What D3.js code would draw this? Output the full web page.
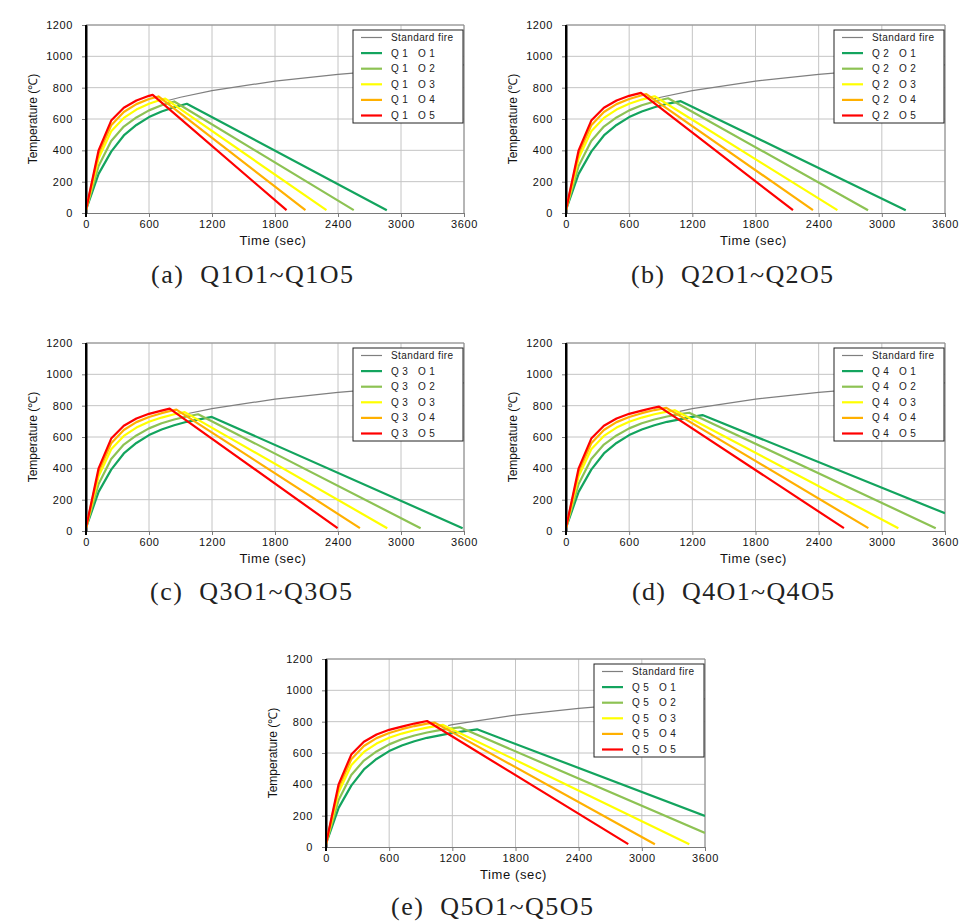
<!DOCTYPE html>
<html>
<head>
<meta charset="utf-8">
<script src="https://cdn.jsdelivr.net/npm/d3@7"></script>
<style>
  html, body { margin: 0; padding: 0; background: #fff; }
  svg { display: block; }
</style>
</head>
<body>
<script>
// ---------------- DATA ----------------
const timeTicks = [0, 600, 1200, 1800, 2400, 3000, 3600];
const tempTicks = [0, 200, 400, 600, 800, 1000, 1200];

// Standard fire curve
const fireTime = [0, 60, 120, 180, 240, 300, 420, 600, 900, 1200, 1800, 2400, 3000, 3600];
const fireTemp = [20, 349, 445, 502, 544, 576, 626, 678, 739, 781, 842, 885, 918, 945];
// Point where the standard fire line becomes visible in each panel
const fireStartTime = [780, 830, 950, 1080, 1160];
const fireStartTemp = [718, 727, 747, 764, 775];

// Heating-phase readings per opening level (O1..O5)
const heatTime = [0, 120, 240, 360, 480, 600, 720, 840, 960, 1080, 1200, 1320, 1440];
const heatO1 = [20, 250, 392, 495, 562, 612, 648, 675, 697, 713, 728, 740, 752];
const heatO2 = [20, 300, 460, 552, 610, 655, 688, 712, 731, 746, 758, 768, 777];
const heatO3 = [20, 350, 522, 607, 660, 697, 724, 745, 762, 776, 788, 798, 806];
const heatO4 = [20, 380, 560, 645, 695, 728, 752, 772, 787, 799, 809, 818, 826];
const heatO5 = [20, 400, 590, 672, 718, 748, 768, 788, 804, 815, 824, 832, 839];

// Peak and end points per panel (Q1..Q5), order O1..O5
const peakTimeQ1 = [960, 840, 755, 690, 635];
const peakTempQ1 = [697, 712, 730, 744, 754];
const endTimeQ1  = [2865, 2550, 2290, 2090, 1910];
const endTempQ1  = [18, 18, 18, 18, 18];

const peakTimeQ2 = [1090, 970, 842, 763, 712];
const peakTempQ2 = [714, 732, 745, 759, 767];
const endTimeQ2  = [3227, 2869, 2578, 2346, 2156];
const endTempQ2  = [18, 18, 18, 18, 18];

const peakTimeQ3 = [1198, 1068, 940, 861, 797];
const peakTempQ3 = [728, 745, 759, 775, 781];
const endTimeQ3  = [3587, 3187, 2869, 2609, 2396];
const endTempQ3  = [18, 18, 18, 18, 18];

const peakTimeQ4 = [1296, 1170, 1033, 954, 884];
const peakTempQ4 = [740, 755, 771, 786, 794];
const endTimeQ4  = [3600, 3512, 3157, 2872, 2640];
const endTempQ4  = [113, 18, 18, 18, 18];

const peakTimeQ5 = [1435, 1271, 1112, 1033, 960];
const peakTempQ5 = [751, 764, 779, 794, 804];
const endTimeQ5  = [3600, 3600, 3451, 3124, 2871];
const endTempQ5  = [198, 89, 18, 18, 18];

const qLabels = ["Q 1", "Q 2", "Q 3", "Q 4", "Q 5"];
const oLabels = ["O 1", "O 2", "O 3", "O 4", "O 5"];
const fireLabel = "Standard fire";
const captions = ["(a)  Q1O1~Q1O5", "(b)  Q2O1~Q2O5", "(c)  Q3O1~Q3O5", "(d)  Q4O1~Q4O5", "(e)  Q5O1~Q5O5"];
const xTitle = "Time (sec)";
const yTitle = "Temperature (℃)";

// ---------------- STYLE / LAYOUT ----------------
const seriesColors = ["#13a45e", "#8dc253", "#ffff00", "#ffb000", "#ff0000"];
const fireColor = "#7f7f7f";
const panels = [
  { L: 86,  T: 25,  W: 378, H: 188, cx: 252, cy: 283 },
  { L: 566, T: 25,  W: 379, H: 188, cx: 732, cy: 283 },
  { L: 86,  T: 343, W: 378, H: 188, cx: 251, cy: 600 },
  { L: 566, T: 343, W: 379, H: 188, cx: 733, cy: 600 },
  { L: 326, T: 659, W: 379, H: 188, cx: 492, cy: 915 }
];
const heats = [heatO1, heatO2, heatO3, heatO4, heatO5];
const peaksT = [peakTimeQ1, peakTimeQ2, peakTimeQ3, peakTimeQ4, peakTimeQ5];
const peaksV = [peakTempQ1, peakTempQ2, peakTempQ3, peakTempQ4, peakTempQ5];
const endsT = [endTimeQ1, endTimeQ2, endTimeQ3, endTimeQ4, endTimeQ5];
const endsV = [endTempQ1, endTempQ2, endTempQ3, endTempQ4, endTempQ5];

const svg = d3.select("body").append("svg")
  .attr("width", 969).attr("height", 923)
  .style("font-family", "'Liberation Sans', Arial, sans-serif");
svg.append("rect").attr("width", 969).attr("height", 923).attr("fill", "#fff");

panels.forEach((p, pi) => {
  const x = d3.scaleLinear().domain([0, 3600]).range([p.L, p.L + p.W]);
  const y = d3.scaleLinear().domain([0, 1200]).range([p.T + p.H, p.T]);
  const g = svg.append("g");

  // grid
  g.selectAll(".vg").data(timeTicks.slice(1)).enter().append("line")
    .attr("x1", d => x(d)).attr("x2", d => x(d))
    .attr("y1", p.T).attr("y2", p.T + p.H)
    .attr("stroke", "#c4c4c4").attr("stroke-width", 1);
  g.selectAll(".hg").data(tempTicks.slice(1)).enter().append("line")
    .attr("x1", p.L).attr("x2", p.L + p.W)
    .attr("y1", d => y(d)).attr("y2", d => y(d))
    .attr("stroke", "#c4c4c4").attr("stroke-width", 1);
  g.append("line").attr("x1", p.L + p.W).attr("x2", p.L + p.W)
    .attr("y1", p.T).attr("y2", p.T + p.H).attr("stroke", "#8a8a8a");
  g.append("line").attr("x1", p.L).attr("x2", p.L + p.W)
    .attr("y1", p.T).attr("y2", p.T).attr("stroke", "#8a8a8a");

  // axes
  const fmt = d3.format("d");
  const ax = g.append("g").attr("transform", `translate(0,${p.T + p.H})`)
    .call(d3.axisBottom(x).tickValues(timeTicks).tickFormat(fmt).tickSize(4).tickPadding(3).tickSizeOuter(0));
  ax.select(".domain").attr("stroke", "#7a7a7a");
  ax.selectAll(".tick line").attr("stroke", "#7a7a7a");
  ax.selectAll("text").attr("font-size", 11).attr("fill", "#111")
    .attr("font-family", "'Liberation Sans', Arial, sans-serif").style("letter-spacing", "0.6px");

  const ay = g.append("g").attr("transform", `translate(${p.L},0)`)
    .call(d3.axisLeft(y).tickValues(tempTicks).tickFormat(fmt).tickSize(4).tickPadding(9).tickSizeOuter(0));
  ay.select(".domain").attr("stroke", "#000").attr("stroke-width", 2);
  ay.selectAll(".tick line").attr("stroke", "#7a7a7a");
  ay.selectAll("text").attr("font-size", 11).attr("fill", "#111")
    .attr("font-family", "'Liberation Sans', Arial, sans-serif").style("letter-spacing", "0.6px");

  // titles
  g.append("text").attr("x", p.L + p.W / 2 - 2).attr("y", p.T + p.H + 32)
    .attr("text-anchor", "middle").attr("font-size", 13).attr("fill", "#111")
    .style("letter-spacing", "0.6px").text(xTitle);
  g.append("text")
    .attr("transform", `translate(${p.L - 53},${p.T + p.H / 2}) rotate(-90)`)
    .attr("text-anchor", "middle").attr("dominant-baseline", "central")
    .attr("font-size", 12).attr("fill", "#111").text(yTitle);

  // clip
  const cid = "clip" + pi;
  svg.append("clipPath").attr("id", cid).append("rect")
    .attr("x", p.L).attr("y", p.T - 2).attr("width", p.W).attr("height", p.H + 2);

  const line = d3.line().x(d => x(d[0])).y(d => y(d[1]));
  const lines = g.append("g").attr("clip-path", `url(#${cid})`);

  const fireData = [[fireStartTime[pi], fireStartTemp[pi]]];
  fireTime.forEach((t, i) => { if (t > fireStartTime[pi]) fireData.push([t, fireTemp[i]]); });
  lines.append("path").datum(fireData).attr("d", line)
    .attr("fill", "none").attr("stroke", fireColor).attr("stroke-width", 1.2);

  heats.forEach((h, k) => {
    const pt = peaksT[pi][k], pv = peaksV[pi][k];
    const pts = [];
    heatTime.forEach((t, i) => { if (t < pt) pts.push([t, h[i]]); });
    pts.push([pt, pv]);
    pts.push([endsT[pi][k], endsV[pi][k]]);
    lines.append("path").datum(pts).attr("d", line)
      .attr("fill", "none").attr("stroke", seriesColors[k])
      .attr("stroke-width", 2.2).attr("stroke-linejoin", "round");
  });

  g.append("line").attr("x1", p.L).attr("x2", p.L).attr("y1", p.T).attr("y2", p.T + p.H + 4)
    .attr("stroke", "#000").attr("stroke-width", 2);

  // legend
  const bx = p.L + p.W - 111, by = p.T + 5;
  const lg = g.append("g");
  lg.append("rect").attr("x", bx).attr("y", by).attr("width", 110).attr("height", 93)
    .attr("fill", "#fff").attr("stroke", "#222").attr("stroke-width", 1);
  const rowY = i => by + 7.5 + i * 15.6;
  lg.append("line").attr("x1", bx + 8).attr("x2", bx + 29).attr("y1", rowY(0)).attr("y2", rowY(0))
    .attr("stroke", fireColor).attr("stroke-width", 1.2);
  lg.append("text").attr("x", bx + 38).attr("y", rowY(0)).attr("dominant-baseline", "central")
    .attr("font-size", 10).attr("fill", "#222").style("letter-spacing", "0.4px").text(fireLabel);
  oLabels.forEach((o, k) => {
    const yy = rowY(k + 1);
    lg.append("line").attr("x1", bx + 8).attr("x2", bx + 29).attr("y1", yy).attr("y2", yy)
      .attr("stroke", seriesColors[k]).attr("stroke-width", 2.2);
    lg.append("text").attr("x", bx + 38).attr("y", yy).attr("dominant-baseline", "central")
      .attr("font-size", 10).attr("fill", "#222").style("letter-spacing", "0.4px").text(qLabels[pi]);
    lg.append("text").attr("x", bx + 65).attr("y", yy).attr("dominant-baseline", "central")
      .attr("font-size", 10).attr("fill", "#222").style("letter-spacing", "0.4px").text(o);
  });

  // caption
  svg.append("text").attr("x", p.cx).attr("y", p.cy)
    .attr("text-anchor", "middle")
    .attr("font-family", "'Liberation Serif', 'DejaVu Serif', serif")
    .attr("font-size", 26).attr("fill", "#222")
    .attr("textLength", 202).attr("lengthAdjust", "spacing")
    .style("white-space", "pre")
    .text(captions[pi]);
});
</script>
</body>
</html>
